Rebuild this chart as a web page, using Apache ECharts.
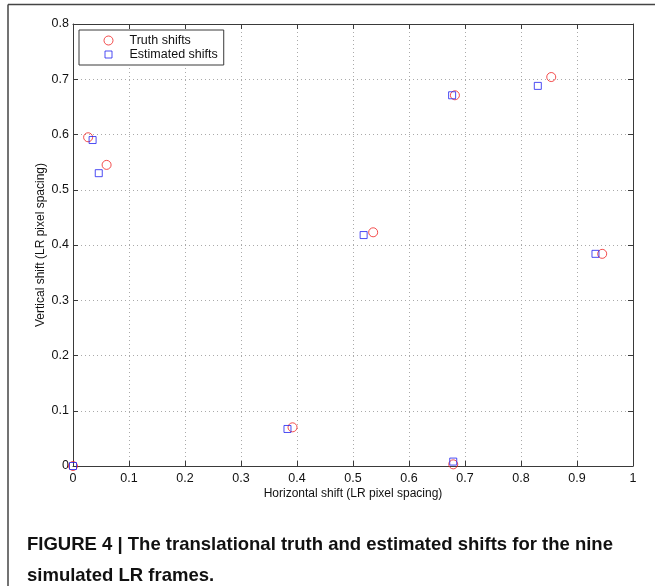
<!DOCTYPE html>
<html>
<head>
<meta charset="utf-8">
<script src="https://cdn.jsdelivr.net/npm/echarts@6/dist/echarts.min.js"></script>
<style>
html,body{margin:0;padding:0;background:#fff;}
#chart{width:655px;height:586px;}
</style>
</head>
<body>
<div id="chart"></div>
<script>
// Data
var truthX = [0, 0.027, 0.060, 0.392, 0.536, 0.679, 0.682, 0.854, 0.945];
var truthY = [0, 0.595, 0.545, 0.070, 0.423, 0.003, 0.671, 0.704, 0.384];
var estX   = [0, 0.035, 0.046, 0.383, 0.519, 0.679, 0.677, 0.830, 0.933];
var estY   = [0, 0.590, 0.530, 0.067, 0.418, 0.008, 0.671, 0.688, 0.384];
var seriesNames = ['Truth shifts', 'Estimated shifts'];
var xTicks = ['0','0.1','0.2','0.3','0.4','0.5','0.6','0.7','0.8','0.9','1'];
var yTicks = ['0','0.1','0.2','0.3','0.4','0.5','0.6','0.7','0.8'];
var xTitle = 'Horizontal shift (LR pixel spacing)';
var yTitle = 'Vertical shift (LR pixel spacing)';
var caption = 'FIGURE 4 | The translational truth and estimated shifts for the nine\nsimulated LR frames.';

function pairs(xs, ys){ return xs.map(function(x,i){ return [x, ys[i]]; }); }
function fmt(list, step){ return function(v){ var i = Math.round(v/step); return list[i] !== undefined ? list[i] : ''; }; }

var FONT = '"Liberation Sans", Arial, Helvetica, sans-serif';
var axisCol = '#3a3a3a';
var truthCol = '#f02020';
var estCol = '#2020f0';

// legend icons: wide invisible box (via moveTo) with the marker centred in it
var iconCircle = 'path://M0,0M32,9M11.5,4.5A4.5,4.5,0,1,1,20.5,4.5A4.5,4.5,0,1,1,11.5,4.5Z';
var iconSquare = 'path://M0,0M32,9M12.5,1L19.5,1L19.5,8L12.5,8Z';

function baseAxis(extra){
  var a = {
    type: 'value',
    axisLine: {show: true, onZero: false, lineStyle: {color: axisCol, width: 1}},
    axisTick: {show: true, inside: true, length: 5, lineStyle: {color: axisCol}},
    splitLine: {show: false},
    axisLabel: {show: false}
  };
  for (var k in extra) a[k] = extra[k];
  return a;
}

var chart = echarts.init(document.getElementById('chart'), null, {renderer: 'canvas'});
chart.setOption({
  backgroundColor: '#fff',
  animation: false,
  title: {
    text: caption,
    left: 22, top: 524,
    textStyle: {fontFamily: FONT, fontSize: 18.5, fontWeight: 'bold', color: '#111', lineHeight: 31}
  },
  grid: {left: 73, right: 22, top: 24, bottom: 120, show: false},
  legend: {
    data: [
      {name: seriesNames[0], icon: iconCircle, itemStyle: {color: 'rgba(0,0,0,0)', borderColor: truthCol, borderWidth: 1}},
      {name: seriesNames[1], icon: iconSquare, itemStyle: {color: 'rgba(0,0,0,0)', borderColor: estCol, borderWidth: 1}}
    ],
    orient: 'vertical',
    left: 79, top: 30,
    padding: [4, 6, 4, 13],
    itemWidth: 32, itemHeight: 9, itemGap: 1,
    backgroundColor: '#fff',
    borderColor: axisCol, borderWidth: 1, borderRadius: 0,
    textStyle: {fontFamily: FONT, fontSize: 12.5, color: '#111'}
  },
  xAxis: [
    baseAxis({
      min: 0, max: 1, interval: 0.1, position: 'bottom',
      name: xTitle, nameLocation: 'middle', nameGap: 22, nameMoveOverlap: false,
      nameTextStyle: {fontFamily: FONT, fontSize: 12, color: '#111'},
      axisLabel: {show: true, margin: 6, fontFamily: FONT, fontSize: 12.5, color: '#111', formatter: fmt(xTicks, 0.1)},
      splitLine: {show: true, lineStyle: {type: [1, 3], color: '#aaa', width: 1}}
    }),
    baseAxis({min: 0, max: 1, interval: 0.1, position: 'top'})
  ],
  yAxis: [
    baseAxis({
      min: 0, max: 0.8, interval: 0.1, position: 'left',
      name: yTitle, nameLocation: 'middle', nameGap: 26, nameMoveOverlap: false,
      nameTextStyle: {fontFamily: FONT, fontSize: 12, color: '#111'},
      axisLabel: {show: true, margin: 4, fontFamily: FONT, fontSize: 12.5, color: '#111', formatter: fmt(yTicks, 0.1)},
      splitLine: {show: true, lineStyle: {type: [1, 3], color: '#aaa', width: 1}}
    }),
    baseAxis({min: 0, max: 0.8, interval: 0.1, position: 'right'})
  ],
  graphic: [
    {type: 'line', shape: {x1: 8, y1: 4.5, x2: 655, y2: 4.5}, style: {stroke: '#444', lineWidth: 1.5}, silent: true},
    {type: 'line', shape: {x1: 8, y1: 4.5, x2: 8, y2: 586}, style: {stroke: '#444', lineWidth: 1.5}, silent: true}
  ],
  series: [
    {
      name: seriesNames[0], type: 'scatter', clip: false,
      symbol: 'circle', symbolSize: 9,
      itemStyle: {color: 'rgba(0,0,0,0)', borderColor: truthCol, borderWidth: 1},
      data: pairs(truthX, truthY), z: 3
    },
    {
      name: seriesNames[1], type: 'scatter', clip: false,
      symbol: 'rect', symbolSize: 7,
      itemStyle: {color: 'rgba(0,0,0,0)', borderColor: estCol, borderWidth: 1},
      data: pairs(estX, estY), z: 4
    }
  ]
});
</script>
</body>
</html>
